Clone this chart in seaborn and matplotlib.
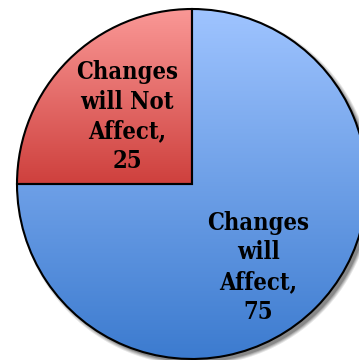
import numpy as np
import matplotlib
matplotlib.use("Agg")
import matplotlib.pyplot as plt
import seaborn as sns
from matplotlib.colors import LinearSegmentedColormap
from matplotlib.patches import Circle

# ---- data ----
labels = ["Changes\nwill Not\nAffect,", "Changes\nwill\nAffect,"]
values = [25, 75]
top_colors = ["#FA9896", "#9FC4FF"]
bottom_colors = ["#CE403D", "#3C7BCF"]
label_pos = [(-0.37, 0.385), (0.38, -0.475)]

sns.set_theme(style="white")
plt.rcParams["font.family"] = ["DejaVu Serif"]

fig = plt.figure(figsize=(3.59, 3.60), dpi=100)
ax = fig.add_axes([0.0473, 0.0028, 0.975, 0.9722])
ax.set_xlim(-1, 1)
ax.set_ylim(-1, 1)
ax.axis("off")

# drop shadow
px = 1.0 / 175.0
for i, a in enumerate([0.10, 0.12, 0.15, 0.2]):
    ax.add_patch(Circle((3.5 * px, -3.5 * px), 1 + (3 - i) * px, color="black",
                        alpha=a, lw=0, zorder=0, clip_on=False))

wedges, _ = ax.pie(values, startangle=90, counterclock=True, radius=1,
                   colors=bottom_colors, wedgeprops=dict(lw=0))
for w, c0, c1 in zip(wedges, top_colors, bottom_colors):
    w.set_zorder(1)
    ext = w.get_path().get_extents()
    cmap = LinearSegmentedColormap.from_list("g", [c1, c0])
    grad = np.linspace(0, 1, 256).reshape(-1, 1)
    im = ax.imshow(grad, cmap=cmap, origin="lower", aspect="auto",
                   extent=[ext.x0, ext.x1, ext.y0, ext.y1], zorder=2,
                   interpolation="bilinear")
    im.set_clip_path(w)

ax.set_xlim(-1, 1)
ax.set_ylim(-1, 1)

# outlines
ax.pie(values, startangle=90, counterclock=True, radius=1,
       wedgeprops=dict(fill=False, edgecolor="black", lw=1.5, zorder=3))
ax.set_xlim(-1, 1)
ax.set_ylim(-1, 1)

for lab, v, (x, y) in zip(labels, values, label_pos):
    ax.text(x, y, f"{lab}\n{v}", ha="center", va="center", fontsize=17,
            fontweight="bold", fontstretch="condensed", linespacing=1.3,
            color="black", zorder=4)

fig.savefig("out.png", dpi=100)
